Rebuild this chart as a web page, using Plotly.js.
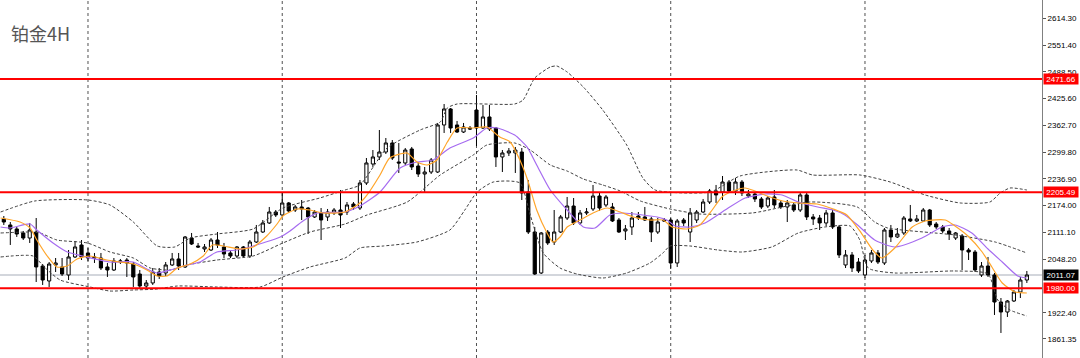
<!DOCTYPE html>
<html><head><meta charset="utf-8">
<script src="https://cdn.plot.ly/plotly-3.0.1.min.js"></script>
<style>html,body{margin:0;padding:0;background:#fff}#chart{width:1080px;height:358px}</style>
</head><body><div id="chart"></div>
<script>
// ---- candles (bar index 0..158, 4H bars) ----
const openP = [2142.7,2128.6,2119.2,2109.8,2098.0,2112.1,2032.2,1997.0,2034.6,2029.9,
2011.1,2053.4,2081.6,2062.8,2053.4,2051.0,2029.9,2022.8,2041.6,2046.3,
2036.9,2013.4,1985.2,1992.3,2018.1,2015.8,2034.6,2048.7,2029.9,2098.0,
2079.2,2072.2,2069.8,2093.3,2076.9,2062.8,2055.7,2076.9,2055.7,2088.6,
2112.1,2133.3,2159.1,2152.1,2180.3,2163.8,2170.9,2168.5,2147.4,2156.8,
2147.4,2156.8,2163.8,2159.1,2177.9,2168.5,2227.3,2271.9,2288.4,2300.1,
2321.3,2276.6,2274.3,2307.2,2267.2,2248.4,2253.1,2253.1,2363.6,2401.2,
2363.6,2347.1,2356.5,2398.8,2356.5,2382.4,2356.5,2288.4,2297.8,2297.8,
2300.1,2206.1,2112.1,2015.8,2112.1,2088.6,2112.1,2145.0,2173.2,2133.3,
2156.8,2166.2,2196.7,2175.6,2170.9,2140.3,2114.5,2123.9,2149.7,2147.4,
2142.7,2112.1,2140.3,2140.3,2039.3,2140.3,2112.1,2140.3,2159.1,2182.6,
2208.5,2206.1,2229.6,2208.5,2229.6,2196.7,2201.4,2189.7,2173.2,2194.4,
2180.3,2170.9,2175.6,2163.8,2199.1,2147.4,2145.0,2133.3,2156.8,2123.9,
2034.6,2058.1,2041.6,2011.1,2044.0,2062.8,2039.3,2116.8,2100.4,2109.8,
2142.7,2138.0,2138.0,2163.8,2130.9,2123.9,2114.5,2098.0,2102.7,2069.8,
2065.1,2011.1,2032.2,2011.1,1947.6,1924.1,1950.0,1971.1,1999.3];
const highP = [2149.7,2135.6,2123.9,2114.5,2133.3,2145.0,2036.9,2041.6,2051.0,2051.0,
2069.8,2091.0,2093.3,2074.5,2062.8,2062.8,2039.3,2051.0,2048.7,2051.0,
2041.6,2022.8,1999.3,2027.5,2027.5,2041.6,2062.8,2062.8,2102.7,2109.8,
2086.3,2083.9,2098.0,2112.1,2086.3,2069.8,2079.2,2079.2,2093.3,2128.6,
2140.3,2170.9,2163.8,2203.8,2182.6,2175.6,2187.3,2170.9,2163.8,2168.5,
2166.2,2168.5,2210.8,2182.6,2182.6,2234.3,2286.0,2304.8,2351.8,2333.0,
2328.3,2321.3,2309.5,2311.9,2276.6,2264.9,2286.0,2368.3,2412.9,2403.5,
2373.0,2368.3,2361.2,2434.1,2410.6,2410.6,2358.9,2304.8,2309.5,2311.9,
2309.5,2234.3,2123.9,2112.1,2116.8,2163.8,2152.1,2194.4,2192.0,2163.8,
2168.5,2222.6,2206.1,2199.1,2180.3,2145.0,2128.6,2159.1,2159.1,2170.9,
2147.4,2145.0,2145.0,2145.0,2142.7,2145.0,2168.5,2163.8,2189.7,2213.2,
2222.6,2243.7,2234.3,2239.0,2234.3,2210.8,2206.1,2194.4,2196.7,2210.8,
2187.3,2187.3,2180.3,2203.8,2203.8,2154.4,2152.1,2163.8,2163.8,2128.6,
2069.8,2065.1,2051.0,2058.1,2069.8,2069.8,2121.5,2128.6,2121.5,2149.7,
2175.6,2152.1,2168.5,2166.2,2135.6,2128.6,2121.5,2112.1,2107.4,2074.5,
2069.8,2041.6,2053.4,2015.8,1957.0,1952.3,1975.8,2006.4,2020.5];
const lowP = [2128.6,2081.6,2100.4,2093.3,2086.3,1994.6,1987.6,1982.9,2018.1,2008.7,
1999.3,2051.0,2046.3,2044.0,2039.3,2022.8,2006.4,2020.5,2036.9,2006.4,
1982.9,1980.5,1980.5,1987.6,2001.7,2008.7,2032.2,2022.8,2027.5,2081.6,
2074.5,2065.1,2067.5,2074.5,2051.0,2051.0,2051.0,2051.0,2051.0,2086.3,
2109.8,2130.9,2147.4,2147.4,2156.8,2159.1,2140.3,2107.4,2145.0,2093.3,
2138.0,2152.1,2121.5,2152.1,2163.8,2163.8,2222.6,2264.9,2281.3,2295.4,
2281.3,2250.8,2269.6,2257.8,2241.4,2206.1,2248.4,2250.8,2344.8,2344.8,
2344.8,2344.8,2351.8,2314.2,2354.2,2349.5,2264.9,2253.1,2290.7,2250.8,
2187.3,2107.4,2011.1,2013.4,2081.6,2081.6,2109.8,2140.3,2128.6,2128.6,
2152.1,2161.5,2161.5,2170.9,2135.6,2109.8,2093.3,2105.1,2140.3,2138.0,
2088.6,2107.4,2135.6,2025.2,2029.9,2126.2,2088.6,2133.3,2156.8,2177.9,
2180.3,2187.3,2203.8,2199.1,2196.7,2192.0,2182.6,2166.2,2168.5,2168.5,
2166.2,2135.6,2159.1,2159.1,2140.3,2128.6,2116.8,2126.2,2119.2,2051.0,
2027.5,2018.1,2015.8,2004.0,2039.3,2036.9,2034.6,2088.6,2098.0,2105.1,
2135.6,2135.6,2135.6,2123.9,2119.2,2109.8,2093.3,2093.3,2022.8,2046.3,
2018.1,2006.4,2006.4,1917.1,1874.8,1912.4,1947.6,1957.0,1992.3];
const closeP = [2135.6,2119.2,2107.4,2098.0,2116.8,2029.9,1999.3,2036.9,2039.3,2013.4,
2053.4,2076.9,2053.4,2051.0,2051.0,2027.5,2022.8,2044.0,2044.0,2039.3,
2006.4,1985.2,1992.3,2018.1,2008.7,2034.6,2048.7,2032.2,2100.4,2083.9,
2076.9,2076.9,2093.3,2081.6,2060.4,2055.7,2076.9,2055.7,2088.6,2112.1,
2133.3,2159.1,2152.1,2180.3,2161.5,2170.9,2166.2,2147.4,2159.1,2140.3,
2159.1,2163.8,2152.1,2175.6,2170.9,2227.3,2274.3,2288.4,2300.1,2321.3,
2286.0,2274.3,2304.8,2264.9,2248.4,2253.1,2281.3,2363.6,2401.2,2356.5,
2347.1,2358.9,2354.2,2356.5,2382.4,2354.2,2288.4,2297.8,2302.5,2304.8,
2203.8,2112.1,2013.4,2109.8,2086.3,2112.1,2147.4,2173.2,2133.3,2156.8,
2159.1,2196.7,2168.5,2194.4,2138.0,2112.1,2119.2,2145.0,2145.0,2140.3,
2112.1,2135.6,2138.0,2039.3,2138.0,2133.3,2156.8,2159.1,2182.6,2208.5,
2199.1,2229.6,2208.5,2229.6,2203.8,2201.4,2189.7,2170.9,2192.0,2175.6,
2170.9,2180.3,2163.8,2199.1,2147.4,2142.7,2133.3,2156.8,2123.9,2058.1,
2058.1,2027.5,2020.5,2046.3,2062.8,2041.6,2116.8,2100.4,2107.4,2145.0,
2138.0,2142.7,2163.8,2128.6,2123.9,2114.5,2107.4,2109.8,2069.8,2065.1,
2022.8,2032.2,2011.1,1947.6,1924.1,1950.0,1971.1,1999.3,2011.07];
const barIdx = closeP.map((_, i) => i);

// ---- fast MA (orange), read at bar positions ----
const maFastX = [-0.5,2.5,4.05,5.1,6.7,8.2,9.8,11.3,13.3,15.9,17.9,20.0,22.1,23.7,25.2,26.8,28.8,30.8,32.2,33.9,36.5,38.5,40.6,42.2,43.1,45.3,47.3,49.3,52.7,55.0,56.1,58.1,59.6,62.3,63.8,65.4,66.9,68.5,70.0,72.5,74.6,76.6,78.2,79.7,80.9,82.3,83.9,84.8,85.9,87.0,89.0,91.0,93.2,95.2,97.2,99.8,101.8,103.2,105.5,107.5,109.4,110.9,112.6,114.5,116.0,117.9,120.3,122.9,125.6,128.1,130.2,132.2,134.2,135.6,137.6,140.3,142.3,145.4,146.9,148.9,151.1,152.6,154.2,156.2,158.0];
const maFast = [2145.0,2135.6,2121.5,2093.3,2055.7,2029.9,2032.2,2048.7,2055.7,2046.3,2041.6,2036.9,2022.8,2008.7,2008.7,2027.5,2036.9,2055.7,2081.6,2079.2,2072.2,2076.9,2102.7,2130.9,2149.7,2166.2,2163.8,2156.8,2159.1,2180.3,2199.1,2246.1,2286.0,2297.8,2276.6,2269.6,2281.3,2323.6,2356.5,2356.5,2358.9,2335.4,2323.6,2281.3,2234.3,2163.8,2109.8,2088.6,2100.4,2123.9,2140.3,2156.8,2168.5,2159.1,2147.4,2140.3,2140.3,2123.9,2119.2,2128.6,2163.8,2194.4,2208.5,2215.5,2208.5,2196.7,2185.0,2180.3,2177.9,2166.2,2152.1,2114.5,2069.8,2051.0,2074.5,2123.9,2138.0,2140.3,2126.2,2102.7,2065.1,2029.9,1992.3,1971.1,1968.7];

// ---- slow MA (purple) ----
const maSlowX = [-0.5,0.96,4.05,5.1,7.6,9.8,12.2,16.4,20.0,22.1,23.7,25.7,28.3,30.3,32.9,36.0,38.0,40.0,42.7,44.2,46.2,48.4,52.7,55.0,58.1,61.2,63.8,66.3,68.9,72.5,74.6,76.2,78.9,80.8,82.3,84.4,87.0,89.5,91.3,93.6,95.6,98.7,100.9,102.4,103.7,106.0,108.3,111.4,114.5,117.6,120.2,122.7,125.7,128.1,129.9,132.2,134.5,137.6,141.8,144.9,146.9,149.5,152.0,154.2,156.6,158.0];
const maSlow = [2123.9,2121.5,2130.9,2116.8,2086.3,2065.1,2055.7,2041.6,2041.6,2025.2,2015.8,2022.8,2034.6,2041.6,2065.1,2069.8,2076.9,2086.3,2100.4,2114.5,2138.0,2156.8,2159.1,2173.2,2206.1,2262.5,2276.6,2281.3,2309.5,2333.0,2356.5,2356.5,2340.1,2311.9,2269.6,2210.8,2163.8,2124.0,2121.5,2152.1,2156.8,2152.1,2147.4,2140.3,2126.2,2123.9,2133.3,2163.8,2192.0,2201.4,2199.1,2182.6,2170.9,2163.8,2152.1,2124.0,2093.3,2076.9,2098.0,2123.9,2128.6,2109.8,2072.2,2041.6,2008.7,2004.0];

// ---- Bollinger bands (dotted) ----
const bbUpX = [-0.5,4.8,13.0,16.4,20.0,23.7,26.4,28.8,32.9,38.5,43.1,48.8,52.7,55.0,59.2,64.3,67.4,68.5,70.0,78.9,80.2,82.0,84.4,85.4,87.0,89.5,92.5,96.2,98.7,100.6,109.1,113.7,122.5,124.9,132.2,136.9,142.3,147.7,152.3,153.9,155.4,158.0];
const bbUp = [2159.1,2185.0,2187.3,2175.6,2135.6,2079.2,2076.9,2098.0,2107.4,2119.2,2168.5,2192.0,2210.8,2222.6,2309.5,2351.8,2370.6,2403.5,2412.9,2412.9,2422.3,2474.0,2499.9,2502.2,2488.1,2452.9,2398.8,2316.6,2239.0,2210.8,2206.1,2243.7,2257.8,2246.1,2246.1,2229.6,2199.1,2180.3,2182.6,2203.8,2215.5,2210.8];
const bbMidX = [-0.5,4.05,5.6,8.2,12.9,16.4,20.0,22.6,25.7,28.3,32.9,38.5,43.1,47.3,52.7,56.1,62.3,67.4,72.5,74.6,78.9,81.3,84.4,87.0,89.5,92.5,95.2,98.3,102.9,107.5,115.7,124.5,131.8,134.5,136.5,143.8,146.9,153.1,158.0];
const bbMid = [2109.8,2112.1,2109.8,2093.3,2086.3,2065.1,2051.0,2027.5,2022.8,2034.6,2046.3,2055.7,2086.3,2112.1,2130.9,2152.1,2182.6,2246.1,2293.1,2316.6,2321.3,2304.8,2269.6,2255.4,2236.7,2222.6,2208.5,2185.0,2166.2,2154.4,2157.0,2182.6,2170.9,2135.6,2121.5,2109.8,2105.1,2088.6,2062.8];
const bbLowX = [-0.5,4.5,6.4,8.7,13.3,16.4,20.0,23.7,26.8,32.9,39.6,43.1,47.3,52.7,55.0,58.6,63.8,68.9,71.2,73.1,75.6,79.7,81.3,83.3,85.9,88.5,92.5,96.2,99.8,101.8,102.9,106.0,110.3,114.0,118.6,122.7,126.8,130.7,132.2,133.5,137.6,146.9,152.0,153.5,155.4,158.0];
const bbLow = [2053.4,2055.7,2027.5,1999.3,1982.9,1973.4,1975.8,1978.1,1985.2,1982.9,1982.9,2006.4,2029.9,2051.0,2074.5,2079.2,2088.6,2116.8,2163.8,2206.1,2229.6,2227.3,2152.1,2062.8,2027.5,2013.4,2004.0,2015.8,2039.3,2062.8,2079.2,2079.2,2069.8,2065.1,2076.9,2109.8,2123.9,2126.2,2093.3,2027.5,2015.8,2020.5,2013.4,1952.3,1928.8,1914.7];

// ---- levels, separators, axis ticks ----
const redLevels = [2471.66, 2205.49, 1980.00];
const lastPrice = 2011.07;
const weekSeparators = [13, 43, 73, 103, 133];
const tickVals = [2614.30,2551.40,2488.50,2425.60,2362.70,2299.80,2236.90,2174.00,2111.10,2048.20,1922.40,1861.35];
const titleText = '铂金4H';

const dotted = {color:'#404040', width:1, dash:'3px,2px', shape:'spline', smoothing:0.6};
const traces = [
  {type:'candlestick', x:barIdx, open:openP, high:highP, low:lowP, close:closeP,
   increasing:{line:{color:'#000', width:1}, fillcolor:'#ffffff'},
   decreasing:{line:{color:'#000', width:1}, fillcolor:'#000000'},
   whiskerwidth:0, hoverinfo:'skip', showlegend:false},
  {type:'scatter', mode:'lines', x:bbUpX, y:bbUp, line:dotted, hoverinfo:'skip', showlegend:false},
  {type:'scatter', mode:'lines', x:bbMidX, y:bbMid, line:dotted, hoverinfo:'skip', showlegend:false},
  {type:'scatter', mode:'lines', x:bbLowX, y:bbLow, line:dotted, hoverinfo:'skip', showlegend:false},
  {type:'scatter', mode:'lines', x:maSlowX, y:maSlow, line:{color:'#a66cf0', width:1.2, shape:'spline', smoothing:0.6}, hoverinfo:'skip', showlegend:false},
  {type:'scatter', mode:'lines', x:maFastX, y:maFast, line:{color:'#ffa52a', width:1.2, shape:'spline', smoothing:0.6}, hoverinfo:'skip', showlegend:false}
];

const shapes = [];
weekSeparators.forEach(v => shapes.push({type:'line', xref:'x', yref:'paper', x0:v, x1:v, y0:0, y1:1, layer:'below', line:{color:'#505050', width:1, dash:'3px,3px'}}));
shapes.push({type:'line', xref:'paper', yref:'y', x0:0, x1:1, y0:lastPrice, y1:lastPrice, layer:'below', line:{color:'#c4c8d0', width:1.5}});
redLevels.forEach(v => shapes.push({type:'line', xref:'paper', yref:'y', x0:0, x1:1, y0:v, y1:v, line:{color:'#ff0000', width:2}}));

const annotations = [{xref:'paper', yref:'paper', x:9/1042, y:1-33/358, xanchor:'left', yanchor:'middle', text:titleText, showarrow:false,
  font:{family:'"Noto Sans CJK SC", "Noto Sans", sans-serif', size:18, color:'#555'}}];
redLevels.forEach(v => annotations.push({xref:'paper', yref:'y', x:1, y:v, xanchor:'left', yanchor:'middle', xshift:1, text:v.toFixed(2), showarrow:false,
  bgcolor:'#ff0000', width:34, height:10, borderpad:0, font:{family:'Liberation Sans, Arial, sans-serif', size:8, color:'#fff'}}));
annotations.push({xref:'paper', yref:'y', x:1, y:lastPrice, xanchor:'left', yanchor:'middle', xshift:1, text:lastPrice.toFixed(2), showarrow:false,
  bgcolor:'#000', width:34, height:10, borderpad:0, font:{family:'Liberation Sans, Arial, sans-serif', size:8, color:'#fff'}});

const layout = {
  width:1080, height:358, margin:{l:0, r:38, t:0, b:0}, paper_bgcolor:'#fff', plot_bgcolor:'#fff', showlegend:false,
  xaxis:{range:[-0.59, 160.34], showgrid:false, zeroline:false, showticklabels:false, ticks:'', rangeslider:{visible:false}, fixedrange:true},
  yaxis:{side:'right', range:[1816.0, 2657.3], tickvals:tickVals, ticktext:tickVals.map(v=>v.toFixed(2)), showgrid:false, zeroline:false,
    ticks:'outside', ticklen:3, tickcolor:'#555', showline:true, linecolor:'#808080', linewidth:1,
    tickfont:{family:'Liberation Sans, Arial, sans-serif', size:8, color:'#000'}, fixedrange:true},
  shapes:shapes, annotations:annotations
};
Plotly.newPlot('chart', traces, layout, {displayModeBar:false, staticPlot:true});
</script></body></html>
